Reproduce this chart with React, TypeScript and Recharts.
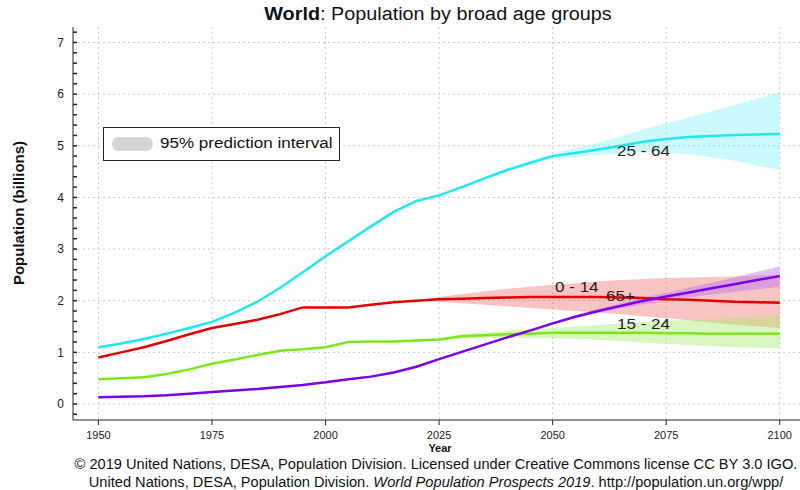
import React from "react";
import {
  ComposedChart,
  Line,
  Area,
  XAxis,
  YAxis,
  CartesianGrid,
} from "recharts";

const years = [
  1950, 1955, 1960, 1965, 1970, 1975, 1980, 1985, 1990, 1995, 2000, 2005, 2010,
  2015, 2020, 2025, 2030, 2035, 2040, 2045, 2050, 2055, 2060, 2065, 2070, 2075,
  2080, 2085, 2090, 2095, 2100,
];

const age0_14 = [
  0.9, 1.0, 1.1, 1.22, 1.35, 1.47, 1.55, 1.63, 1.74, 1.87, 1.87, 1.87, 1.92,
  1.97, 2.0, 2.03, 2.04, 2.05, 2.06, 2.07, 2.07, 2.07, 2.07, 2.06, 2.05, 2.03,
  2.02, 2.0, 1.98, 1.97, 1.96,
];
const age15_24 = [
  0.48, 0.5, 0.52, 0.58, 0.67, 0.78, 0.86, 0.95, 1.03, 1.06, 1.1, 1.2, 1.21,
  1.21, 1.23, 1.25, 1.31, 1.33, 1.35, 1.36, 1.38, 1.38, 1.38, 1.38, 1.38, 1.37,
  1.37, 1.36, 1.36, 1.36, 1.36,
];
const age25_64 = [
  1.1, 1.17, 1.26, 1.36, 1.47, 1.59, 1.77, 1.98, 2.25, 2.55, 2.86, 3.15, 3.44,
  3.72, 3.93, 4.04, 4.2, 4.37, 4.53, 4.67, 4.8, 4.86, 4.93, 5.0, 5.08, 5.13,
  5.17, 5.19, 5.21, 5.22, 5.23,
];
const age65 = [
  0.13, 0.14, 0.15, 0.17, 0.2, 0.23, 0.26, 0.29, 0.33, 0.37, 0.42, 0.48, 0.53,
  0.61, 0.72, 0.87, 1.01, 1.15, 1.29, 1.42, 1.56, 1.69, 1.8, 1.9, 2.0, 2.08,
  2.16, 2.24, 2.32, 2.4, 2.48,
];

// 95% prediction intervals, projections only
const bandYears = [
  2020, 2025, 2030, 2035, 2040, 2045, 2050, 2055, 2060, 2065, 2070, 2075, 2080,
  2085, 2090, 2095, 2100,
];
const low0_14 = [
  2.0, 1.98, 1.95, 1.92, 1.89, 1.86, 1.83, 1.8, 1.77, 1.74, 1.7, 1.66, 1.62,
  1.58, 1.54, 1.5, 1.47,
];
const high0_14 = [
  2.0, 2.07, 2.13, 2.18, 2.23, 2.27, 2.31, 2.34, 2.37, 2.4, 2.42, 2.44, 2.45,
  2.46, 2.47, 2.49, 2.5,
];
const low15_24 = [
  1.23, 1.22, 1.27, 1.28, 1.28, 1.28, 1.28, 1.26, 1.24, 1.22, 1.19, 1.16, 1.14,
  1.12, 1.1, 1.09, 1.08,
];
const high15_24 = [
  1.23, 1.28, 1.35, 1.39, 1.42, 1.45, 1.47, 1.5, 1.53, 1.56, 1.59, 1.61, 1.63,
  1.65, 1.67, 1.69, 1.71,
];
const low25_64 = [
  3.93, 4.03, 4.18, 4.34, 4.5, 4.63, 4.75, 4.78, 4.82, 4.85, 4.88, 4.87, 4.84,
  4.78, 4.71, 4.62, 4.53,
];
const high25_64 = [
  3.93, 4.05, 4.22, 4.4, 4.56, 4.71, 4.85, 4.95, 5.06, 5.18, 5.32, 5.43, 5.55,
  5.67, 5.79, 5.91, 6.03,
];
const low65 = [
  0.72, 0.87, 1.01, 1.15, 1.29, 1.41, 1.54, 1.66, 1.76, 1.85, 1.93, 2.0, 2.06,
  2.12, 2.17, 2.22, 2.27,
];
const high65 = [
  0.72, 0.87, 1.01, 1.15, 1.29, 1.43, 1.58, 1.72, 1.84, 1.95, 2.06, 2.15, 2.25,
  2.35, 2.45, 2.56, 2.66,
];

const xTicks = [1950, 1975, 2000, 2025, 2050, 2075, 2100];
const yLabels = [0, 1, 2, 3, 4, 5, 6, 7];
const yMinorTicks = Array.from({ length: 38 }, (_, i) => Math.round((i * 0.2 - 0.2) * 10) / 10);

const rows = years.map((year, i) => ({
  year,
  a0: age0_14[i],
  a15: age15_24[i],
  a25: age25_64[i],
  a65: age65[i],
}));

const bandRows = bandYears.map((year, i) => ({
  year,
  b0: [low0_14[i], high0_14[i]],
  b15: [low15_24[i], high15_24[i]],
  b25: [low25_64[i], high25_64[i]],
  b65: [low65[i], high65[i]],
}));

const FONT = "'Liberation Sans', Arial, sans-serif";
const NARROW = "'Liberation Sans Narrow', 'Liberation Sans', Arial, sans-serif";

const YTick = (props: any) => {
  const { x, y, payload } = props;
  const v = payload.value;
  const isMajor = Math.abs(v - Math.round(v)) < 1e-6 && v >= 0;
  return (
    <g>
      <line x1={x} x2={x + 4} y1={y} y2={y} stroke="#222" strokeWidth={1.5} />
      {isMajor && (
        <text x={x - 9} y={y} dy="0.35em" textAnchor="end" fontSize={12} fontFamily={NARROW} fill="#222">
          {Math.round(v)}
        </text>
      )}
    </g>
  );
};

const lineLabels = [
  { text: "25 - 64", left: 617, top: 142 },
  { text: "0 - 14", left: 555, top: 278 },
  { text: "65+", left: 606, top: 287 },
  { text: "15 - 24", left: 617, top: 315 },
];

export default function App() {
  return (
    <div
      style={{
        position: "fixed",
        left: 0,
        top: 0,
        width: 800,
        height: 490,
        overflow: "hidden",
        background: "#fff",
        fontFamily: FONT,
      }}
    >
      <ComposedChart
        width={820}
        height={490}
        data={rows}
        margin={{ top: 27, right: 13, bottom: 40, left: 43 }}
      >
        <CartesianGrid
          stroke="#c8c8c8"
          strokeDasharray="2 3"
          horizontalValues={yLabels}
          verticalValues={xTicks}
        />
        <XAxis
          dataKey="year"
          type="number"
          domain={[1944.4, 2106]}
          ticks={xTicks}
          allowDataOverflow
          height={30}
          tickSize={5}
          tickMargin={6}
          stroke="#222"
          tick={{ fontSize: 11, fontFamily: NARROW, fill: "#222" }}
        />
        <XAxis
          xAxisId="top"
          orientation="top"
          type="number"
          domain={[1944.4, 2106]}
          height={0}
          tick={false}
          tickLine={false}
          stroke="#222"
        />
        <YAxis
          type="number"
          domain={[-0.31, 7.3]}
          ticks={yMinorTicks}
          allowDataOverflow
          width={30}
          tickSize={0}
          tickMargin={0}
          tickLine={false}
          stroke="#222"
          interval={0}
          tick={<YTick />}
        />
        <Area data={bandRows} dataKey="b25" type="linear" stroke="none" fill="#7ef2f7" fillOpacity={0.4} isAnimationActive={false} />
        <Area data={bandRows} dataKey="b0" type="linear" stroke="none" fill="#ef7070" fillOpacity={0.42} isAnimationActive={false} />
        <Area data={bandRows} dataKey="b15" type="linear" stroke="none" fill="#a6ea6a" fillOpacity={0.42} isAnimationActive={false} />
        <Area data={bandRows} dataKey="b65" type="linear" stroke="none" fill="#b46cf0" fillOpacity={0.42} isAnimationActive={false} />
        <Line dataKey="a25" type="linear" stroke="#22e6f0" strokeWidth={2.5} dot={false} isAnimationActive={false} />
        <Line dataKey="a0" type="linear" stroke="#e00000" strokeWidth={2.5} dot={false} isAnimationActive={false} />
        <Line dataKey="a15" type="linear" stroke="#7ee61c" strokeWidth={2.5} dot={false} isAnimationActive={false} />
        <Line dataKey="a65" type="linear" stroke="#7a00e8" strokeWidth={2.5} dot={false} isAnimationActive={false} />
      </ComposedChart>

      <div
        style={{
          position: "absolute",
          left: 438,
          top: 4,
          transform: "translateX(-50%) scaleX(1.1)",
          whiteSpace: "nowrap",
          fontSize: 18,
          color: "#111",
        }}
      >
        <b>World</b>: Population by broad age groups
      </div>

      <div
        style={{
          position: "absolute",
          left: 18,
          top: 213,
          transform: "translate(-50%, -50%) rotate(-90deg)",
          whiteSpace: "nowrap",
          fontSize: 15,
          fontWeight: "bold",
          color: "#111",
        }}
      >
        Population (billions)
      </div>

      <div
        style={{
          position: "absolute",
          left: 440,
          top: 442,
          transform: "translateX(-50%)",
          fontSize: 11,
          fontWeight: "bold",
          fontFamily: NARROW,
          color: "#111",
        }}
      >
        Year
      </div>

      <div
        style={{
          position: "absolute",
          left: 436,
          top: 455,
          transform: "translateX(-50%) scaleX(1.045)",
          whiteSpace: "nowrap",
          fontSize: 14,
          color: "#111",
          textAlign: "center",
          lineHeight: "18px",
        }}
      >
        © 2019 United Nations, DESA, Population Division. Licensed under Creative Commons license CC BY 3.0 IGO.
        <br />
        United Nations, DESA, Population Division. <i>World Population Prospects 2019</i>. http://population.un.org/wpp/
      </div>

      <div
        style={{
          position: "absolute",
          left: 103,
          top: 127,
          width: 237,
          height: 34,
          border: "1px solid #222",
          background: "#fff",
          boxSizing: "border-box",
        }}
      >
        <div
          style={{
            position: "absolute",
            left: 8,
            top: 9,
            width: 41,
            height: 14,
            borderRadius: 7,
            background: "#d4d4d4",
          }}
        />
        <div
          style={{
            position: "absolute",
            left: 56,
            top: 6,
            fontSize: 15.5,
            color: "#111",
            whiteSpace: "nowrap",
            transform: "scaleX(1.1)",
            transformOrigin: "left center",
          }}
        >
          95% prediction interval
        </div>
      </div>

      {lineLabels.map(({ text, left, top }) => (
        <div
          key={text}
          style={{
            position: "absolute",
            left,
            top,
            fontSize: 15.5,
            color: "#222",
            whiteSpace: "nowrap",
            transform: "scaleX(1.1)",
            transformOrigin: "left center",
          }}
        >
          {text}
        </div>
      ))}
    </div>
  );
}
